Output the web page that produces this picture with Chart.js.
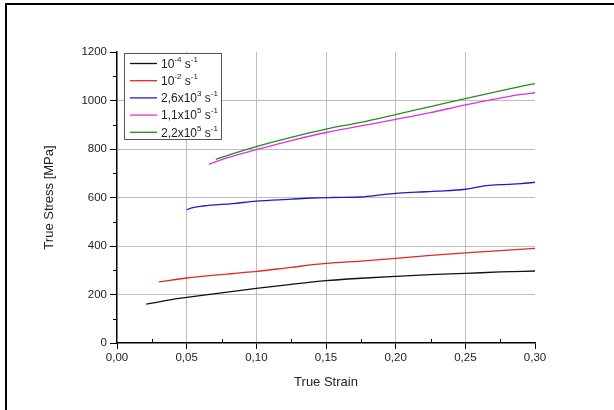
<!DOCTYPE html>
<html>
<head>
<meta charset="utf-8">
<script src="https://cdn.jsdelivr.net/npm/chart.js@4"></script>
<style>
  html, body { margin: 0; overflow: hidden; background: #fff; }
  #frame { position: absolute; left: 5px; top: 3px; width: 607px; height: 405px;
           border-left: 2px solid #000; border-top: 2px solid #000; pointer-events: none; }
  canvas { position: absolute; left: 0; top: 0; }
</style>
</head>
<body>
<canvas id="myChart" width="614" height="410"></canvas>
<div id="frame"></div>
<script>
// strain rate series
let seriesLabels = ["10⁻⁴ s⁻¹", "10⁻² s⁻¹", "2,6x10³ s⁻¹", "1,1x10⁵ s⁻¹", "2,2x10⁵ s⁻¹"];
let seriesColors = ["#111111", "#e02828", "#1c1cc8", "#e030e0", "#1f8f1f"];

let strainA = [0.021, 0.03, 0.04, 0.05, 0.075, 0.10, 0.125, 0.15, 0.175, 0.20, 0.225, 0.25, 0.275, 0.30];
let stressA = [160, 170, 180, 188, 207, 225, 242, 257, 267, 275, 282, 287, 293, 297];

let strainB = [0.030, 0.05, 0.075, 0.10, 0.125, 0.15, 0.175, 0.20, 0.225, 0.25, 0.275, 0.30];
let stressB = [252, 268, 282, 295, 312, 328, 338, 349, 361, 372, 381, 390];

let strainC = [0.050, 0.053, 0.062, 0.083, 0.10, 0.125, 0.14, 0.155, 0.174, 0.185, 0.20, 0.215, 0.23, 0.25, 0.265, 0.28, 0.29, 0.30];
let stressC = [549, 556, 565, 575, 585, 593, 598, 600, 602, 608, 617, 622, 626, 634, 649, 654, 657, 663];

let strainD = [0.066, 0.08, 0.10, 0.125, 0.15, 0.175, 0.20, 0.225, 0.25, 0.275, 0.29, 0.30];
let stressD = [737, 765, 797, 835, 868, 895, 922, 950, 982, 1010, 1025, 1032];

let strainE = [0.071, 0.08, 0.10, 0.125, 0.15, 0.175, 0.20, 0.225, 0.25, 0.275, 0.30];
let stressE = [757, 775, 810, 848, 882, 910, 942, 975, 1008, 1040, 1070];

let strains = [strainA, strainB, strainC, strainD, strainE];
let stresses = [stressA, stressB, stressC, stressD, stressE];

const fontName = "'Liberation Sans', Arial, sans-serif";

function points(xs, ys) {
    return xs.map(function (x, i) { return { x: x, y: ys[i] }; });
}

// small ticks between the labelled ones
const minorTicks = {
    id: "minorTicks",
    afterDraw(chart) {
        const ctx = chart.ctx;
        const xs = chart.scales.x, ys = chart.scales.y;
        ctx.save();
        ctx.strokeStyle = "#000";
        ctx.lineWidth = 1;
        ctx.beginPath();
        for (let v = 0.025; v < 0.30; v += 0.05) {
            const px = Math.round(xs.getPixelForValue(v)) + 0.5;
            ctx.moveTo(px, ys.bottom);
            ctx.lineTo(px, ys.bottom - 4);
        }
        for (let v = 100; v < 1200; v += 200) {
            const py = Math.round(ys.getPixelForValue(v)) + 0.5;
            ctx.moveTo(xs.left, py);
            ctx.lineTo(xs.left - 4, py);
        }
        ctx.stroke();
        ctx.restore();
    }
};

// boxed legend inside the plot, with raised exponents
const supMap = { "⁰": "0", "¹": "1", "²": "2", "³": "3", "⁴": "4", "⁵": "5", "⁶": "6", "⁷": "7", "⁸": "8", "⁹": "9", "⁻": "-" };

function drawRich(ctx, text, x, y) {
    for (const ch of text) {
        if (supMap[ch] !== undefined) {
            ctx.font = "8px " + fontName;
            ctx.fillText(supMap[ch], x, y - 5);
            x += ctx.measureText(supMap[ch]).width;
        } else {
            ctx.font = "12px " + fontName;
            ctx.fillText(ch, x, y);
            x += ctx.measureText(ch).width;
        }
    }
}

const boxLegend = {
    id: "boxLegend",
    afterDraw(chart) {
        const ctx = chart.ctx;
        const area = chart.chartArea;
        const left = area.left + 7, top = area.top + 1;
        const w = 97, h = 86, rowH = 17.2;
        ctx.save();
        ctx.fillStyle = "#fff";
        ctx.fillRect(left, top, w, h);
        ctx.strokeStyle = "#555";
        ctx.lineWidth = 1;
        ctx.strokeRect(left + 0.5, top + 0.5, w, h);
        chart.data.datasets.forEach(function (ds, i) {
            const y = top + 10.5 + i * rowH;
            ctx.strokeStyle = ds.borderColor;
            ctx.lineWidth = 1.3;
            ctx.beginPath();
            ctx.moveTo(left + 6, y);
            ctx.lineTo(left + 33, y);
            ctx.stroke();
            ctx.fillStyle = "#222";
            ctx.textBaseline = "middle";
            drawRich(ctx, ds.label, left + 37, y + 1);
        });
        ctx.restore();
    }
};

let stressChart = new Chart("myChart", {
    type: "line",
    data: {
        datasets: seriesLabels.map(function (label, i) {
            return {
                label: label,
                data: points(strains[i], stresses[i]),
                borderColor: seriesColors[i],
                borderWidth: 1.3,
                pointRadius: 0,
                cubicInterpolationMode: "monotone",
                fill: false
            };
        })
    },
    options: {
        responsive: false,
        animation: false,
        layout: { padding: { left: 0, top: 52, right: 79, bottom: 0 } },
        plugins: {
            legend: { display: false },
            tooltip: { enabled: false }
        },
        scales: {
            x: {
                type: "linear",
                min: 0,
                max: 0.30,
                afterFit: function (scale) { scale.height = 67; },
                ticks: {
                    stepSize: 0.05,
                    color: "#222",
                    font: { family: fontName, size: 11.5 },
                    padding: 2,
                    maxRotation: 0,
                    callback: function (v) { return v.toFixed(2).replace(".", ","); }
                },
                grid: {
                    color: function (c) {
                        return (c.index === 0 || c.tick && c.tick.value > 0.29) ? "rgba(0,0,0,0)" : "#bdbdbd";
                    },
                    tickColor: "#000",
                    tickLength: 6,
                    lineWidth: 1
                },
                border: { color: "#000", width: 1.5 },
                title: {
                    display: true,
                    text: "True Strain",
                    color: "#222",
                    font: { family: fontName, size: 13 },
                    padding: { top: 0, bottom: 20 }
                }
            },
            y: {
                min: 0,
                max: 1200,
                afterFit: function (scale) { scale.width = 117; },
                ticks: {
                    stepSize: 200,
                    color: "#222",
                    font: { family: fontName, size: 11.5 },
                    padding: 3,
                    callback: function (v) { return String(v); }
                },
                grid: {
                    color: function (c) {
                        return (c.index === 0 || c.tick && c.tick.value >= 1200) ? "rgba(0,0,0,0)" : "#bdbdbd";
                    },
                    tickColor: "#000",
                    tickLength: 7,
                    lineWidth: 1
                },
                border: { color: "#000", width: 1.5 },
                title: {
                    display: true,
                    text: "True Stress [MPa]",
                    color: "#222",
                    font: { family: fontName, size: 13 },
                    padding: { top: 42, bottom: 0 }
                }
            }
        }
    },
    plugins: [minorTicks, boxLegend]
});
</script>
</body>
</html>
